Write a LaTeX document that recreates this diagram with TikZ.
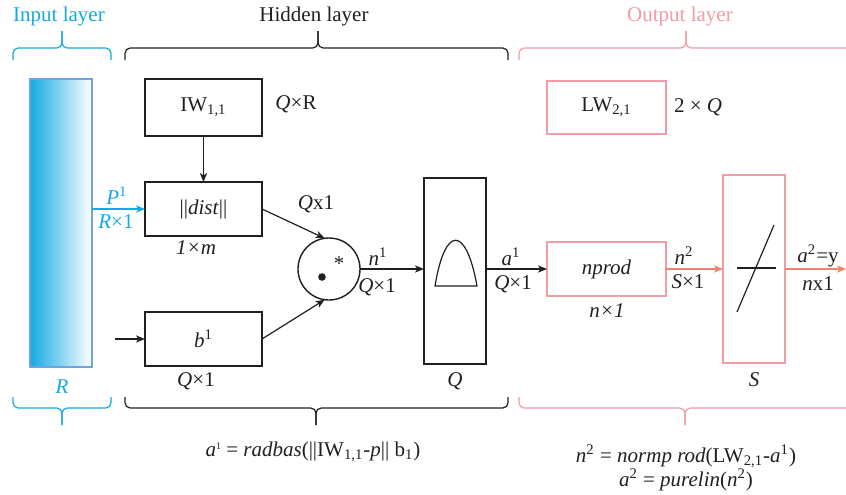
\documentclass[tikz,border=0pt]{standalone}
\usepackage{fontspec}
\setmainfont{Liberation Serif}
\usetikzlibrary{arrows.meta}
\definecolor{cyanL}{RGB}{20,170,225}
\definecolor{pinkL}{RGB}{242,156,166}
\definecolor{salmonL}{RGB}{240,130,112}
\definecolor{inkL}{RGB}{35,31,32}
\definecolor{barEdge}{RGB}{110,165,225}
\newcommand\sups[1]{\textsuperscript{#1}}
\newcommand\subs[1]{\textsubscript{#1}}
\begin{document}
\begin{tikzpicture}[x=0.5pt,y=-0.5pt,
  font=\fontsize{10.5}{12.5}\selectfont, text=inkL,
  every node/.style={inner sep=0pt, outer sep=0pt},
  blackbox/.style={draw=inkL, line width=0.7pt, minimum width=58.5pt, minimum height=27pt},
  pinkbox/.style={draw=pinkL, line width=1.4pt, minimum width=59.5pt, minimum height=27pt},
  tallbox/.style={minimum width=31pt, minimum height=93pt},
  arr/.style={-{Stealth[length=4.5pt,width=3.6pt,inset=1.2pt]}, line width=0.6pt, draw=inkL},
  brace/.style={line width=0.6pt, rounded corners=2.6pt},
  lbl/.style={text=inkL}]
\useasboundingbox (0,0) rectangle (846,494);
\fill[white] (0,0) rectangle (846,494);

% titles
\node[text=cyanL] (tin) at (59,16) {Input layer};
\node (thid) at (314,16) {Hidden layer};
\node[text=pinkL] (tout) at (680,16) {Output layer};

% top braces
\draw[brace, cyanL] (13,60) -- (13,48) -- (62,48) -- (62,31);
\draw[brace, cyanL] (62,31) -- (62,48) -- (111,48) -- (111,60);
\draw[brace, inkL] (125,60) -- (125,48) -- (318,48) -- (318,31);
\draw[brace, inkL] (318,31) -- (318,48) -- (508,48) -- (508,60);
\draw[brace, pinkL] (519,60) -- (519,48) -- (686,48) -- (686,31);
\draw[brace, pinkL] (686,31) -- (686,48) -- (850,48);

% bottom braces
\draw[brace, cyanL] (13,397) -- (13,408) -- (62,408) -- (62,425);
\draw[brace, cyanL] (62,425) -- (62,408) -- (111,408) -- (111,397);
\draw[brace, inkL] (125,397) -- (125,408) -- (316,408) -- (316,425);
\draw[brace, inkL] (316,425) -- (316,408) -- (508,408) -- (508,397);
\draw[brace, pinkL] (519,397) -- (519,408) -- (685,408) -- (685,425);
\draw[brace, pinkL] (685,425) -- (685,408) -- (850,408);

% input bar
\node[draw=barEdge, line width=0.6pt, minimum width=31pt, minimum height=144pt,
      left color=cyanL, right color=white] (bar) at (61,223) {};
\node[text=cyanL] (rlab) at (62,387) {\textit{R}};

% hidden layer boxes
\node[blackbox, minimum height=28.5pt] (iw) at (203.5,107.5) {IW\subs{1,1}};
\node (iwd) at (296,104) {\textit{Q}×R};
\node[blackbox] (dist) at (203.5,209) {||\textit{dist}||};
\node (distd) at (196,248) {\textit{1×m}};
\node[blackbox] (b1) at (203.5,339) {\textit{b}\sups{1}};
\node (b1d) at (196,381) {\textit{Q}×1};
\coordinate (bin) at (115,339);

\node[draw=inkL, line width=0.7pt, circle, minimum size=31pt] (circ) at (329,269) {};
\fill[inkL] (322,277) circle (1.9pt);
\node (ast) at (339,264) {*};
\node (qx1) at (316,204) {\textit{Q}x1};

\node[draw=inkL, line width=0.7pt, tallbox] (qbox) at (455,271) {};
\node (qlab) at (455,381) {\textit{Q}};
\draw[inkL, line width=0.6pt] (435,286) .. controls (445,225) and (466,225) .. (477,286) -- cycle;

% output layer
\node[pinkbox, minimum height=26.5pt] (lw) at (606.5,107.5) {LW\subs{2,1}};
\node (lwd) at (698,107) {2 × \textit{Q}};
\node[pinkbox] (nprod) at (606.5,269) {\textit{nprod}};
\node (nprodd) at (607,311) {\textit{n×1}};
\node[draw=pinkL, line width=1.4pt, tallbox, minimum height=94pt] (sbox) at (754,269) {};
\node (slab) at (754,380) {\textit{S}};
\draw[inkL, line width=0.6pt] (737,268) -- (776,268);
\draw[inkL, line width=0.6pt] (737,312) -- (774,225);
\coordinate (outend) at (846,269);

% connectors
\draw[arr] (iw) -- (dist);
\draw[arr, draw=cyanL] (bar.east |- dist.west) -- (dist.west);
\node[text=cyanL] (p1) at (117,196) {\textit{P}\sups{1}};
\node[text=cyanL] (rx1) at (116,222) {\textit{R}×1};
\draw[arr] (bin) -- (b1.west);
\draw[arr] (dist.east) -- (circ.98);
\draw[arr] (b1.east) -- (circ.262);
\draw[arr] (circ.east) -- (qbox.west |- circ.east);
\node (n1) at (378,257) {\textit{n}\sups{1}};
\node (n1d) at (377,287) {\textit{Q}×1};
\draw[arr] (qbox.east |- nprod.west) -- (nprod.west);
\node (a1) at (511,257) {\textit{a}\sups{1}};
\node (a1d) at (513,284) {\textit{Q}×1};
\draw[arr, draw=salmonL] (nprod.east) -- (sbox.west);
\node (n2) at (684,256) {\textit{n}\sups{2}};
\node (n2d) at (688,282) {\textit{S}×1};
\draw[arr, draw=salmonL] (sbox.east) -- (outend);
\node (a2) at (818,256) {\textit{a}\sups{2}=y};
\node (a2d) at (818,284) {\textit{n}x1};

% formulas
\node (f1) at (313,452) {\textit{a}\raisebox{3.5pt}{\fontsize{5}{5}\selectfont 1} = \textit{radbas}(||IW\subs{1,1}-\textit{p}|| b\subs{1})};
\node (f2) at (686,456) {\textit{n}\sups{2} = \textit{normp rod}(LW\subs{2,1}-\textit{a}\sups{1})};
\node (f3) at (686,480) {\textit{a}\sups{2} = \textit{purelin}(\textit{n}\sups{2})};
\end{tikzpicture}
\end{document}
